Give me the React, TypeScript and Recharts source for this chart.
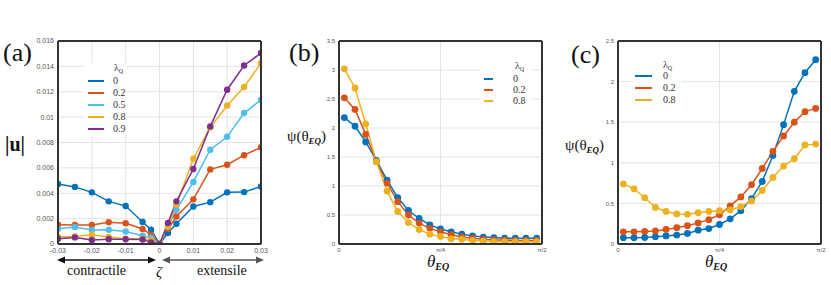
import { LineChart, Line, XAxis, YAxis, CartesianGrid } from "recharts";

// panel (a): |u| vs zeta
const zeta = [-0.03, -0.025, -0.02, -0.015, -0.01, -0.005, -0.0025, 0, 0.0025, 0.005, 0.01, 0.015, 0.02, 0.025, 0.03];
const uLam0 = [0.00473, 0.0045, 0.00407, 0.00336, 0.00299, 0.00173, 0.00113, 0, 0.00087, 0.0016, 0.00296, 0.0033, 0.00407, 0.00409, 0.00454];
const uLam02 = [0.00152, 0.0015, 0.0015, 0.00171, 0.00163, 0.00118, 0.00073, 0, 0.00118, 0.00217, 0.00352, 0.00588, 0.00625, 0.007, 0.00762];
const uLam05 = [0.00121, 0.00134, 0.0011, 0.00112, 0.00099, 0.00065, 0.0005, 0, 0.00134, 0.0027, 0.00489, 0.00743, 0.00845, 0.01032, 0.01137];
const uLam08 = [0.00055, 0.0006, 0.00073, 0.00055, 0.00042, 0.00042, 0.0003, 0, 0.0014, 0.0031, 0.00672, 0.00919, 0.01092, 0.01237, 0.01426];
const uLam09 = [0.00042, 0.00052, 0.00032, 0.00038, 0.00038, 0.00036, 0.00013, 0, 0.00165, 0.00336, 0.00591, 0.00927, 0.01216, 0.01407, 0.01505];
const aYTicks = [0, 0.002, 0.004, 0.006, 0.008, 0.01, 0.012, 0.014, 0.016];
const aXTicks = [-0.03, -0.02, -0.01, 0, 0.01, 0.02, 0.03];

// panels (b), (c): psi vs theta_EQ
const theta = [0.0413, 0.124, 0.2067, 0.2894, 0.372, 0.4547, 0.5374, 0.6201, 0.7027, 0.7854, 0.8681, 0.9507, 1.0334, 1.1161, 1.1988, 1.2814, 1.3641, 1.4468, 1.5295];
const bLam0 = [2.18, 2.03, 1.76, 1.44, 1.1, 0.8, 0.58, 0.44, 0.33, 0.26, 0.21, 0.17, 0.14, 0.12, 0.11, 0.1, 0.1, 0.1, 0.1];
const bLam02 = [2.52, 2.32, 1.89, 1.42, 1.05, 0.73, 0.5, 0.36, 0.27, 0.21, 0.16, 0.12, 0.1, 0.08, 0.07, 0.07, 0.06, 0.06, 0.06];
const bLam08 = [3.02, 2.69, 2.07, 1.42, 0.91, 0.56, 0.37, 0.25, 0.17, 0.13, 0.09, 0.08, 0.06, 0.05, 0.04, 0.04, 0.04, 0.04, 0.04];
const cLam0 = [0.078, 0.078, 0.08, 0.09, 0.1, 0.11, 0.13, 0.17, 0.19, 0.24, 0.31, 0.41, 0.56, 0.77, 1.09, 1.47, 1.88, 2.11, 2.27];
const cLam02 = [0.15, 0.15, 0.155, 0.16, 0.18, 0.2, 0.225, 0.26, 0.3, 0.36, 0.47, 0.58, 0.73, 0.93, 1.14, 1.33, 1.5, 1.63, 1.67];
const cLam08 = [0.74, 0.68, 0.57, 0.45, 0.4, 0.37, 0.365, 0.385, 0.4, 0.41, 0.42, 0.46, 0.53, 0.66, 0.82, 0.96, 1.05, 1.22, 1.23];
const thetaTicks = [0, Math.PI / 4, Math.PI / 2];
const thetaTickLabels = ["0", "π/4", "π/2"];
const bYTicks = [0, 0.5, 1, 1.5, 2, 2.5, 3, 3.5];
const cYTicks = [0, 0.5, 1, 1.5, 2, 2.5];

const BLUE = "#0072BD";
const ORANGE = "#D95319";
const YELLOW = "#EDB120";
const PURPLE = "#7E2F8E";
const CYAN = "#4DBEEE";

const aSeries = [
  { key: "l0", label: "0", color: BLUE, vals: uLam0 },
  { key: "l02", label: "0.2", color: ORANGE, vals: uLam02 },
  { key: "l05", label: "0.5", color: CYAN, vals: uLam05 },
  { key: "l08", label: "0.8", color: YELLOW, vals: uLam08 },
  { key: "l09", label: "0.9", color: PURPLE, vals: uLam09 },
];
const bSeries = [
  { key: "l0", label: "0", color: BLUE, vals: bLam0 },
  { key: "l02", label: "0.2", color: ORANGE, vals: bLam02 },
  { key: "l08", label: "0.8", color: YELLOW, vals: bLam08 },
];
const cSeries = [
  { key: "l0", label: "0", color: BLUE, vals: cLam0 },
  { key: "l02", label: "0.2", color: ORANGE, vals: cLam02 },
  { key: "l08", label: "0.8", color: YELLOW, vals: cLam08 },
];

type Series = { key: string; label: string; color: string; vals: number[] };

const serif = "'Liberation Serif', 'DejaVu Serif', serif";
const sans = "'Liberation Sans', Arial, sans-serif";
const FRAME = "#333333";

// plot boxes (page pixels) – each chart's margins below put its plot area here
const PLOT_TOP = 41;
const PLOT_H = 203;
const PLOT_W = 203;
const boxLefts = [58, 339, 618];

function Panel(props: {
  id: string;
  left: number;
  width: number;
  mLeft: number;
  mRight: number;
  xs: number[];
  series: Series[];
  xDomain: number[];
  xTicks: number[];
  xFmt: (v: number) => string;
  yDomain: number[];
  yTicks: number[];
  fontSize: number;
  r: number;
}) {
  const data = props.xs.map((x, i) => {
    const row: Record<string, number> = { x };
    props.series.forEach((s) => (row[s.key] = s.vals[i]));
    return row;
  });
  const tick = { fontSize: props.fontSize, fill: "#555", fontFamily: sans };
  return (
    <div style={{ position: "absolute", left: props.left, top: 0, width: props.width, height: 285 }}>
      <LineChart
        id={props.id}
        width={props.width}
        height={285}
        data={data}
        margin={{ top: PLOT_TOP, right: props.mRight, bottom: 21, left: props.mLeft }}
      >
        <CartesianGrid stroke="#e4e4e4" />
        <XAxis
          dataKey="x"
          type="number"
          domain={props.xDomain}
          ticks={props.xTicks}
          tickFormatter={props.xFmt}
          interval={0}
          height={20}
          tick={tick}
          tickLine={false}
          tickSize={0}
          tickMargin={4}
          axisLine={false}
          allowDataOverflow
        />
        <YAxis
          type="number"
          domain={props.yDomain}
          ticks={props.yTicks}
          tickFormatter={(v: number) => String(v)}
          interval={0}
          width={40}
          tick={tick}
          tickLine={false}
          tickSize={0}
          tickMargin={4}
          axisLine={false}
          allowDataOverflow
        />
        {props.series.map((s) => (
          <Line
            key={s.key}
            dataKey={s.key}
            stroke={s.color}
            strokeWidth={1.5}
            dot={{ r: props.r, fill: s.color, stroke: s.color, strokeWidth: 0 }}
            isAnimationActive={false}
          />
        ))}
      </LineChart>
    </div>
  );
}

function LegendBox(props: { left: number; top: number; width: number; height: number; titleX: number; lineX: number; lineW: number; textX: number; rowY: number; rowGap: number; series: Series[] }) {
  return (
    <div style={{ position: "absolute", left: props.left, top: props.top, width: props.width, height: props.height, background: "#fff" }}>
      <div style={{ position: "absolute", left: props.titleX, top: 0, fontFamily: serif, fontSize: 10, lineHeight: "10px", color: "#333", whiteSpace: "nowrap" }}>
        λ<span style={{ fontSize: 6, position: "relative", top: 2 }}>Q</span>
      </div>
      {props.series.map((s, i) => (
        <div key={s.key}>
          <div style={{ position: "absolute", left: props.lineX, top: props.rowY + i * props.rowGap - 1, width: props.lineW, height: 2, background: s.color }} />
          <div style={{ position: "absolute", left: props.textX, top: props.rowY + i * props.rowGap - 5, fontFamily: serif, fontSize: 10, color: "#333", lineHeight: "10px" }}>
            {s.label}
          </div>
        </div>
      ))}
    </div>
  );
}

const psiLabel = (
  <span>
    ψ(θ<span style={{ fontSize: 9, fontWeight: "bold", fontStyle: "italic", position: "relative", top: 3 }}>EQ</span>)
  </span>
);
const thetaLabel = (
  <span style={{ fontStyle: "italic" }}>
    θ<span style={{ fontSize: 10, fontWeight: "bold", position: "relative", top: 3 }}>EQ</span>
  </span>
);

export default function App() {
  const abs = (l: number, t: number, extra: React.CSSProperties = {}): React.CSSProperties => ({
    position: "absolute",
    left: l,
    top: t,
    fontFamily: serif,
    color: "#111",
    lineHeight: 1,
    whiteSpace: "nowrap",
    ...extra,
  });
  return (
    <div style={{ position: "absolute", left: 0, top: 0, width: 831, height: 285, background: "#fff", overflow: "hidden" }}>
      <Panel id="panelA" left={0} width={280} mLeft={18} mRight={19} xs={zeta} series={aSeries} xDomain={[-0.03, 0.03]} xTicks={aXTicks} xFmt={(v) => String(v)} yDomain={[0, 0.016]} yTicks={aYTicks} fontSize={7} r={3.2} />
      <Panel id="panelB" left={280} width={280} mLeft={19} mRight={18} xs={theta} series={bSeries} xDomain={[0, Math.PI / 2]} xTicks={thetaTicks} xFmt={(v) => thetaTickLabels[thetaTicks.indexOf(v)] ?? ""} yDomain={[0, 3.5]} yTicks={bYTicks} fontSize={6} r={3.4} />
      <Panel id="panelC" left={556} width={275} mLeft={22} mRight={10} xs={theta} series={cSeries} xDomain={[0, Math.PI / 2]} xTicks={thetaTicks} xFmt={(v) => thetaTickLabels[thetaTicks.indexOf(v)] ?? ""} yDomain={[0, 2.5]} yTicks={cYTicks} fontSize={6} r={3.4} />

      <LegendBox left={83} top={63} width={44} height={72} titleX={31} lineX={5} lineW={16} textX={30} rowY={18} rowGap={12} series={aSeries} />
      <LegendBox left={480} top={61} width={52} height={46} titleX={35} lineX={4} lineW={9} textX={33} rowY={18} rowGap={11} series={bSeries} />
      <LegendBox left={631} top={60} width={51} height={45} titleX={32} lineX={4} lineW={17} textX={32} rowY={16} rowGap={12} series={cSeries} />

      <div style={abs(3, 40, { fontSize: 26 })}>(a)</div>
      <div style={abs(289, 40, { fontSize: 26 })}>(b)</div>
      <div style={abs(571, 42, { fontSize: 26 })}>(c)</div>

      <div style={abs(5, 134, { fontSize: 20, fontWeight: "bold" })}>|u|</div>
      <div style={abs(287, 129, { fontSize: 15 })}>{psiLabel}</div>
      <div style={abs(565, 138, { fontSize: 15 })}>{psiLabel}</div>
      <div style={abs(427, 253, { fontSize: 17 })}>{thetaLabel}</div>
      <div style={abs(705, 253, { fontSize: 17 })}>{thetaLabel}</div>

      <div style={abs(67, 264, { fontSize: 14 })}>contractile</div>
      <div style={abs(156, 265, { fontSize: 15, fontStyle: "italic" })}>ζ</div>
      <div style={abs(197, 264, { fontSize: 14 })}>extensile</div>

      {/* frames and the contractile / extensile arrows, drawn last and on top */}
      <svg width={831} height={285} style={{ position: "absolute", left: 0, top: 0, zIndex: 5, pointerEvents: "none" }}>
        {boxLefts.map((l) => (
          <g key={l}>
            <line x1={l} y1={PLOT_TOP} x2={l + PLOT_W} y2={PLOT_TOP} stroke={FRAME} strokeWidth={2} />
            <line x1={l} y1={PLOT_TOP + PLOT_H} x2={l + PLOT_W} y2={PLOT_TOP + PLOT_H} stroke={FRAME} strokeWidth={2} />
            <line x1={l} y1={PLOT_TOP} x2={l} y2={PLOT_TOP + PLOT_H} stroke={FRAME} strokeWidth={2} />
            <line x1={l + PLOT_W} y1={PLOT_TOP} x2={l + PLOT_W} y2={PLOT_TOP + PLOT_H} stroke={FRAME} strokeWidth={2} />
          </g>
        ))}
        <line x1={63} y1={260} x2={150} y2={260} stroke="#111" strokeWidth={1.5} />
        <polygon points="57,260 65,256.5 65,263.5" fill="#111" />
        <polygon points="156,260 148,256.5 148,263.5" fill="#111" />
        <line x1={168} y1={260} x2={258} y2={260} stroke="#555" strokeWidth={1.5} />
        <polygon points="162,260 170,256.5 170,263.5" fill="#555" />
        <polygon points="264,260 256,256.5 256,263.5" fill="#555" />
      </svg>
    </div>
  );
}
